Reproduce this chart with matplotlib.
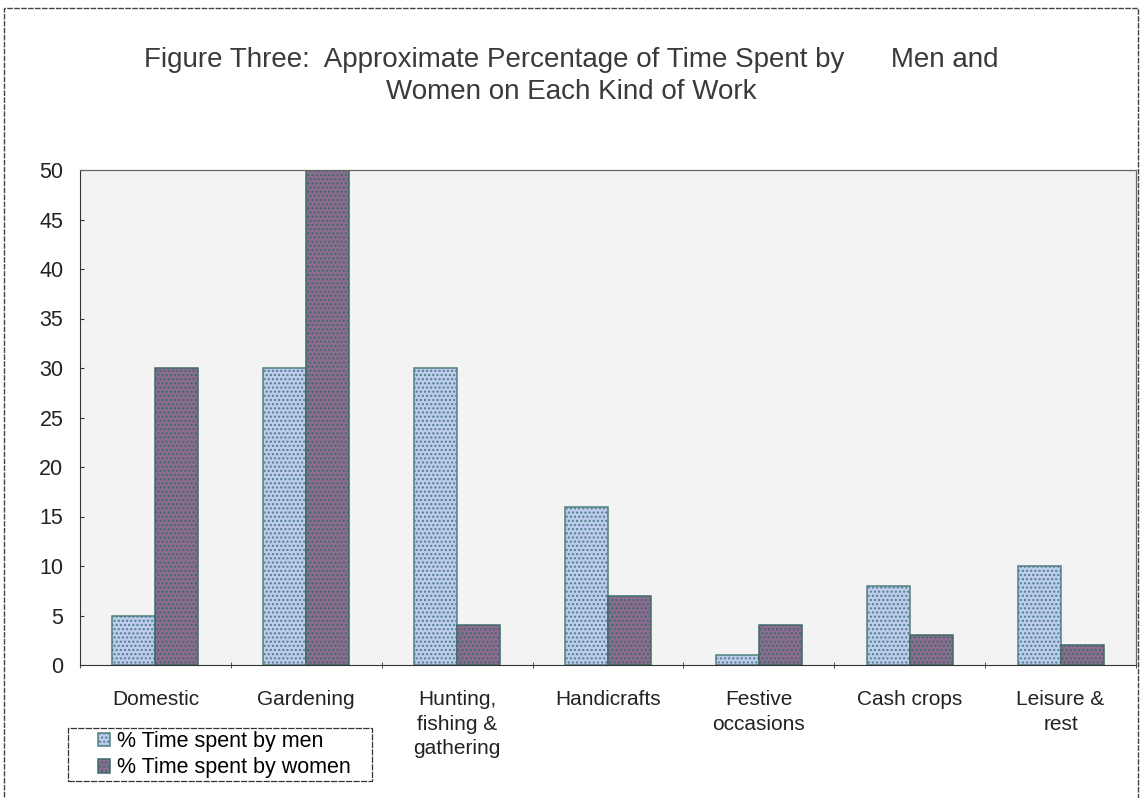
import numpy as np
import matplotlib.pyplot as plt
from matplotlib.patches import Rectangle

# ----------------------------------------------------------
# Data
# ----------------------------------------------------------
categories = [
    "Domestic",
    "Gardening",
    "Hunting,\nfishing &\ngathering",
    "Handicrafts",
    "Festive\noccasions",
    "Cash crops",
    "Leisure &\nrest",
]
men_pct = [5, 30, 30, 16, 1, 8, 10]
women_pct = [30, 50, 4, 7, 4, 3, 2]
y_ticks = [0, 5, 10, 15, 20, 25, 30, 35, 40, 45, 50]

plt.rcParams["font.family"] = ["Liberation Sans", "DejaVu Sans"]
plt.rcParams["hatch.color"] = "#6f7fb0"

W, H = 1142, 798
fig = plt.figure(figsize=(W / 100, H / 100), dpi=100)
fig.patch.set_facecolor("white")

# outer frame round the whole chart
fig.add_artist(Rectangle((4 / W, -0.01), 1134 / W, 1 - 8 / H + 0.01,
                         transform=fig.transFigure, fill=False,
                         edgecolor="#444444", linewidth=1.0,
                         linestyle=(0, (4, 1))))

ax = fig.add_axes([80 / W, 1 - 665 / H, (1136 - 80) / W, (665 - 170) / H])
ax.set_facecolor("#f3f3f3")

x = np.arange(len(categories))
width = 0.285

ax.bar(x - width / 2, men_pct, width, color="#bdcbf0", edgecolor="#4f8080",
       linewidth=1.1, label="% Time spent by men", hatch="....")
ax.bar(x + width / 2, women_pct, width, color="#8c6c8f", edgecolor="#3f6a6a",
       linewidth=1.1, label="% Time spent by women", hatch="....")

ax.set_xlim(-0.5, len(categories) - 0.5)
ax.set_ylim(0, 50)
ax.set_yticks(y_ticks)
ax.set_yticklabels([str(t) for t in y_ticks], fontsize=15.5, color="#222222")
ax.set_xticks(x)
ax.set_xticklabels(categories, fontsize=15, color="#222222", va="top",
                   linespacing=1.38)
ax.set_xticks(np.arange(len(categories) + 1) - 0.5, minor=True)
ax.tick_params(axis="x", which="major", length=0, pad=18)
ax.tick_params(axis="x", which="minor", length=5, direction="inout", color="#333333")
ax.tick_params(axis="y", length=3, direction="in", pad=12, color="#333333")

for side in ["top", "right"]:
    ax.spines[side].set_linestyle((0, (3, 1)))
    ax.spines[side].set_color("#666666")
    ax.spines[side].set_linewidth(0.9)
ax.spines["left"].set_linestyle((0, (4, 1)))
ax.spines["left"].set_color("#333333")
ax.spines["bottom"].set_color("#333333")

fig.text(0.5, 1 - 60 / H, "Figure Three:  Approximate Percentage of Time Spent by      Men and",
         ha="center", va="center", fontsize=20, color="#3a3a3a")
fig.text(0.5, 1 - 92 / H, "Women on Each Kind of Work",
         ha="center", va="center", fontsize=20, color="#3a3a3a")

# legend entries without their own frame, boxed by a separate rectangle
leg = fig.legend(loc="upper left", bbox_to_anchor=(98 / W, 1 - 731 / H),
                 fontsize=15.5, frameon=False, handlelength=0.55,
                 handleheight=0.6, handletextpad=0.35, borderpad=0,
                 labelspacing=0.25, borderaxespad=0)
fig.add_artist(Rectangle((68 / W, 1 - 781 / H), (372 - 68) / W, (781 - 728) / H,
                         transform=fig.transFigure, fill=False,
                         edgecolor="#333333", linewidth=0.9,
                         linestyle=(0, (5, 1))))

fig.savefig("out.png", dpi=100)
